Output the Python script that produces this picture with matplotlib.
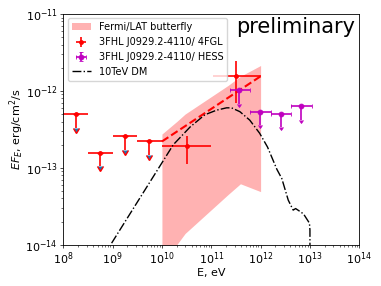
import numpy as np
import matplotlib
matplotlib.use('Agg')
import matplotlib.pyplot as plt

# ── Fermi 4FGL / 3FHL points (eV, erg/cm^2/s) ──────────────────────────────
fgl_e = [1.78e8, 5.6e8, 1.8e9, 5.5e9, 3.2e10, 3.2e11]
fgl_elo = [1.0e8, 3.16e8, 1.0e9, 3.16e9, 1.0e10, 1.07e11]
fgl_ehi = [3.16e8, 1.0e9, 3.16e9, 1.0e10, 1.0e11, 1.0e12]
fgl_f = [5.0e-13, 1.58e-13, 2.6e-13, 2.2e-13, 1.9e-13, 1.58e-12]
fgl_flo = [None, None, None, None, 1.13e-13, 6.9e-13]
fgl_fhi = [None, None, None, None, 2.56e-13, 2.45e-12]
fgl_ul = [True, True, True, True, False, False]

# ── HESS upper limits ─────────────────────────────────────────────────────
hess_e = [3.7e11, 9.8e11, 2.6e12, 6.7e12]
hess_elo = [2.35e11, 6.2e11, 1.6e12, 4.2e12]
hess_ehi = [6.2e11, 1.6e12, 4.2e12, 1.1e13]
hess_f = [1.02e-12, 5.3e-13, 5.0e-13, 6.3e-13]

# ── Fermi/LAT butterfly and power-law fit ─────────────────────────────────
bf_e = [1e10, 2.0e10, 2.95e10, 2.2e11, 3.9e11, 1e12]
bf_lo = [5.4e-15, 1.0e-14, 1.4e-14, 4.5e-14, 6.2e-14, 4.9e-14]
bf_hi = [2.75e-13, 4.0e-13, 5.0e-13, 1.18e-12, 1.55e-12, 2.14e-12]
fit_e = [1e10, 1e12]
fit_f = [2.2e-13, 1.55e-12]

# ── 10 TeV DM spectrum ────────────────────────────────────────────────────
dm_loge = [8.98, 10.23, 10.57, 10.87, 11.11, 11.31, 11.41, 11.58, 11.78,
           11.98, 12.14, 12.33, 12.43, 12.56, 12.66, 12.71, 12.78, 12.87,
           12.93, 12.99, 13.0, 13.0]
dm_logf = [-13.98, -12.70, -12.47, -12.31, -12.25, -12.22, -12.22, -12.27,
           -12.38, -12.55, -12.73, -13.02, -13.14, -13.42, -13.55, -13.53,
           -13.56, -13.60, -13.66, -13.72, -13.81, -15.0]

plt.rcParams['axes.linewidth'] = 0.6
plt.rcParams['xtick.major.size'] = 2.2
plt.rcParams['ytick.major.size'] = 2.2
plt.rcParams['xtick.minor.size'] = 1.3
plt.rcParams['ytick.minor.size'] = 1.3
plt.rcParams['xtick.major.width'] = 0.5
plt.rcParams['ytick.major.width'] = 0.5
plt.rcParams['xtick.minor.width'] = 0.4
plt.rcParams['ytick.minor.width'] = 0.4
plt.rcParams['xtick.major.pad'] = 1.8
plt.rcParams['ytick.major.pad'] = 1.8

fig = plt.figure(figsize=(3.81, 2.86), dpi=100)
ax = fig.add_axes([0.166, 0.1444, 0.777, 0.8066])
ax.set_xscale('log')
ax.set_yscale('log')

h_bf = ax.fill_between(bf_e, bf_lo, bf_hi, color='red', alpha=0.3, lw=0)

fe = np.array(fgl_e)
ff = np.array(fgl_f)
ul = np.array(fgl_ul)
xerr = [fe - np.array(fgl_elo), np.array(fgl_ehi) - fe]
ylo = np.array([0 if u else f - l for f, l, u in zip(fgl_f, fgl_flo, fgl_ul)])
yhi = np.array([0 if u else h - f for f, h, u in zip(fgl_f, fgl_fhi, fgl_ul)])
h_fgl = ax.errorbar(fe, ff, xerr=xerr, yerr=[ylo, yhi], fmt='o', color='red',
                    ms=3.5, elinewidth=1.2, capsize=0, mew=0)
# downward arrows for the upper limits
ax.errorbar(fe[ul], ff[ul], yerr=ff[ul] * 0.34, uplims=True, fmt='none',
            ecolor='red', elinewidth=1.2, capsize=2.2)

he = np.array(hess_e)
hf = np.array(hess_f)
h_hess = ax.errorbar(he, hf, xerr=[he - np.array(hess_elo), np.array(hess_ehi) - he],
                     yerr=hf * 0.33, uplims=True, fmt='o', color='m', ms=3.5,
                     elinewidth=1.2, capsize=1.6, mew=0.6)

ax.plot(fit_e, fit_f, 'r--', lw=1.5)
h_dm, = ax.plot(10 ** np.array(dm_loge), 10 ** np.array(dm_logf), 'k-.', lw=1.0)

ax.set_xlim(1e8, 1e14)
ax.set_ylim(1e-14, 1e-11)
ax.tick_params(labelsize=8)
ax.set_xlabel('E, eV', fontsize=8, labelpad=1)
ax.set_ylabel('$EF_E$, erg/cm$^2$/s', fontsize=8)
ax.yaxis.set_label_coords(-0.125, 0.5)
ax.text(0.985, 0.985, 'preliminary', transform=ax.transAxes, ha='right',
        va='top', fontsize=15)

ax.legend([h_bf, h_fgl, h_hess, h_dm],
          ['Fermi/LAT butterfly', '3FHL J0929.2-4110/ 4FGL',
           '3FHL J0929.2-4110/ HESS', '10TeV DM'],
          loc='upper left', fontsize=7, borderaxespad=0.45)

fig.savefig('out.png', dpi=100)
